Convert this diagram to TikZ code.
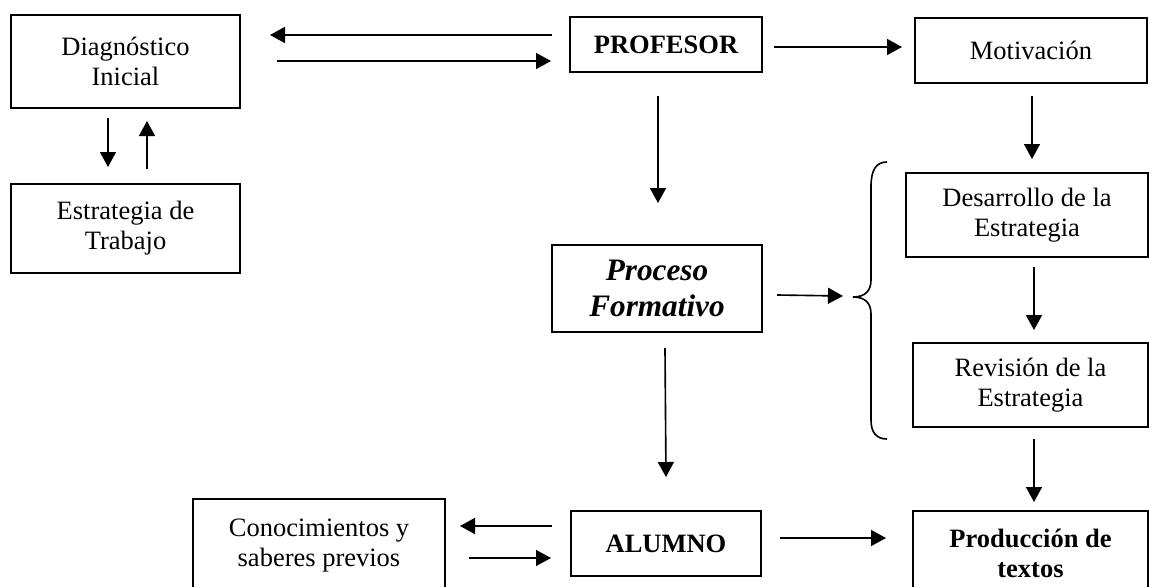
\documentclass[tikz,border=0pt]{standalone}
\usepackage{fontspec}
\setmainfont{Liberation Serif}
\usetikzlibrary{calc,arrows.meta}

\begin{document}
\begin{tikzpicture}[x=0.4pt,y=-0.4pt,
    caja/.style={draw,line width=0.8pt,inner sep=0pt,align=center,font=\fontsize{10.6}{12}\selectfont},
    flecha/.style={line width=0.65pt,-{Triangle[length=6pt,width=6.4pt]}}]
    \clip (0,0) rectangle (1149,587);

    \node[caja,minimum width=91.6pt,minimum height=37.2pt] (diag) at (125.5,61.5) {Diagnóstico\\Inicial};
    \node[caja,minimum width=91.6pt,minimum height=35.6pt] (estr) at (125.5,228.5) {Estrategia de\\Trabajo};
    \node[caja,minimum width=76.8pt,minimum height=22pt,font=\fontsize{10.6}{12}\selectfont\bfseries] (prof) at (666,44.5) {PROFESOR};
    \node[caja,minimum width=92.8pt,minimum height=26pt] (motiv) at (1031,50.5) {Motivación};
    \node[caja,minimum width=84pt,minimum height=34.8pt,font=\fontsize{12.5}{14.4}\selectfont\bfseries\itshape] (proc) at (657,288.5) {Proceso\\Formativo};
    \node[caja,minimum width=96.8pt,minimum height=33.6pt] (desa) at (1027,215) {Desarrollo de la\\Estrategia};
    \node[caja,minimum width=94pt,minimum height=33.6pt] (revi) at (1030.5,385) {Revisión de la\\Estrategia};
    \node[caja,minimum width=76pt,minimum height=26pt,font=\fontsize{10.6}{12}\selectfont\bfseries] (alum) at (666,543.5) {ALUMNO};
    \node[caja,minimum width=100.8pt,minimum height=37.6pt] (conoc) at (319,546) {Conocimientos y\\saberes previos};
    \node[caja,minimum width=94pt,minimum height=33.6pt,font=\fontsize{10.6}{12}\selectfont\bfseries] (prod) at (1030.5,553) {Producción de\\textos};
    \coordinate (llave) at (843,296);

    % llave
    \draw[line width=0.65pt] (887,162) .. controls (876,162) and (871,170) .. (871,187) -- (871,280)
        .. controls (871,290) and (866,297) .. (853,297)
        .. controls (866,297) and (871,304) .. (871,314) -- (871,420)
        .. controls (871,432) and (876,439) .. (887,439);

    \path[flecha]
    ($(prof.west)+(-17,-9.5)$) edge ($(diag.east)+(29,-26.5)$)
    ($(diag.east)+(36,-0.5)$) edge ($(prof.west)+(-18,16.5)$)
    ($(prof.east)+(11,2.5)$) edge ($(motiv.west)+(-12,-3.5)$)
    ($(diag.south)+(-17.5,9)$) edge ($(estr.north)+(-17.5,-16)$)
    ($(estr.north)+(21.5,-14)$) edge ($(diag.south)+(21.5,12)$)
    ($(prof.south)+(-8,23)$) edge ($(proc.north)+(1,-41)$)
    ($(motiv.south)+(1,12)$) edge ($(desa.north)+(5,-13)$)
    ($(proc.east)+(14,6.5)$) edge (llave)
    ($(desa.south)+(7,9)$) edge ($(revi.north)+(3.5,-12)$)
    ($(revi.south)+(3.5,11)$) edge ($(prod.north)+(3.5,-8)$)
    ($(proc.south)+(8,15)$) edge ($(alum.north)+(0,-33)$)
    ($(alum.west)+(-18,-17.5)$) edge ($(conoc.east)+(14,-20)$)
    ($(conoc.east)+(23,12)$) edge ($(alum.west)+(-19,14.5)$)
    ($(alum.east)+(18,-5.5)$) edge ($(prod.west)+(-26,-15)$)
    ;
\end{tikzpicture}
\end{document}
